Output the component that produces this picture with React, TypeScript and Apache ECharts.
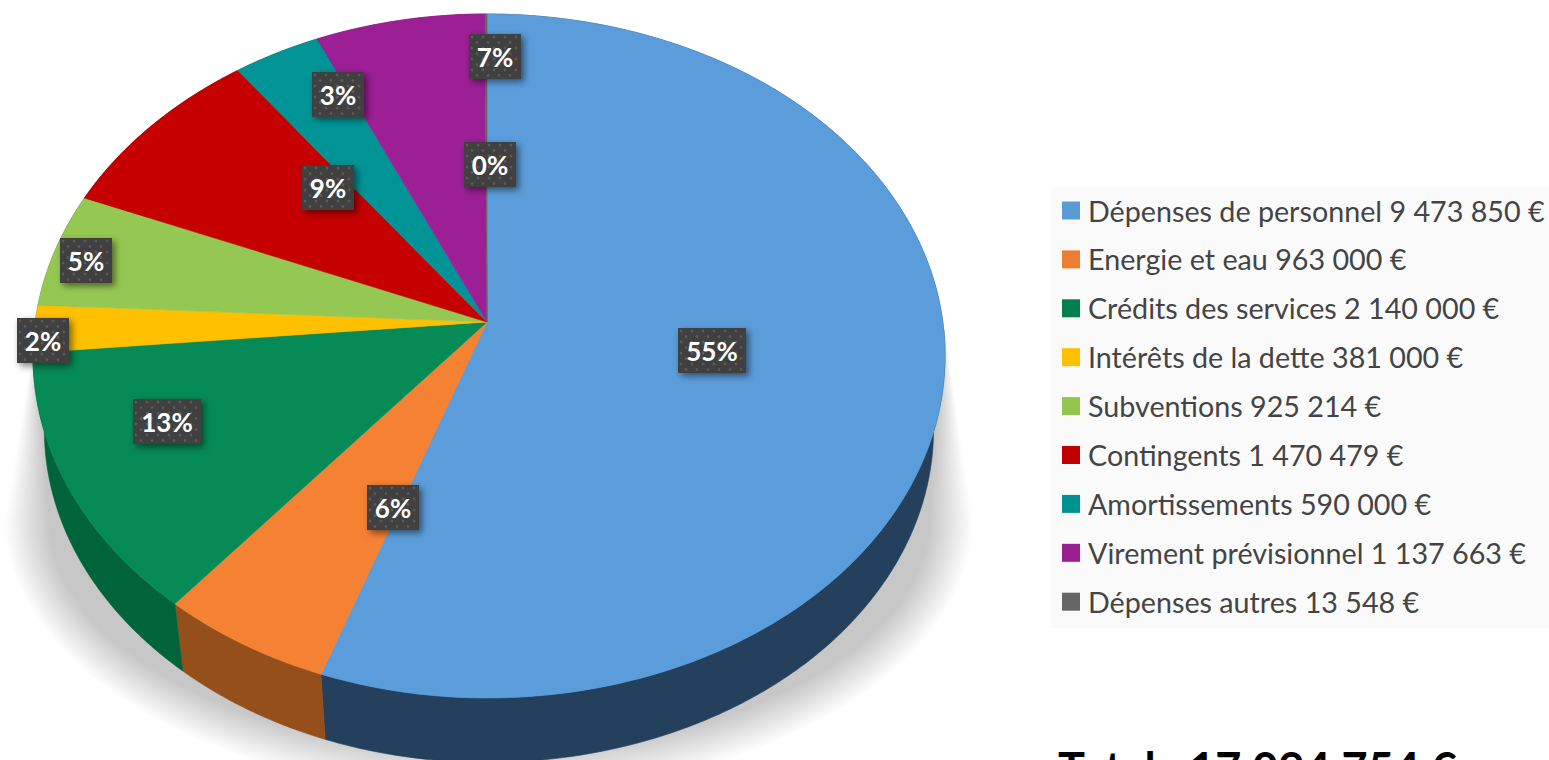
import React, { useEffect, useRef } from "react";
import * as echarts from "echarts";

const categories = [
  "Dépenses de personnel",
  "Energie et eau",
  "Crédits des services",
  "Intérêts de la dette",
  "Subventions",
  "Contingents",
  "Amortissements",
  "Virement prévisionnel",
  "Dépenses autres",
];
const values = [9473850, 963000, 2140000, 381000, 925214, 1470479, 590000, 1137663, 13548];
const topColors = ["#5B9DDB", "#F58233", "#068A56", "#FFC000", "#95C852", "#C60000", "#009496", "#9C1F96", "#666666"];
const legendColors = ["#5B9BD5", "#ED7D31", "#00804E", "#FFC000", "#92C64E", "#C00000", "#009193", "#9A1F90", "#666666"];
const wallColors = ["#24405C", "#944F1B", "#00643A", "#A67D00", "#5F8233", "#7D0000", "#006062", "#651461", "#424242"];
const labelRadius = [0.5, 0.5576, 0.743, 0.9747, 0.918, 0.548, 0.8, 0.849, 0.486];
const labelAngle = [99.8, 200.6, 247.2, 266.7, 281.5, 318.3, 333.9, 1.3, 0.8];
const totalLabel = "Total : 17 094 754 €";

const total = values.reduce((a, b) => a + b, 0);
const fmt = (v: number) => String(v).replace(/\B(?=(\d{3})+(?!\d))/g, " ") + " €";
const legendNames = categories.map((c, i) => `${c} ${fmt(values[i])}`);

// Perspective view of the disc
const CX = 487, CY = 322, A = 453.8, B = 338.2, K = 0.0981;
const rad = (d: number) => (d * Math.PI) / 180;
function project(r: number, deg: number, rim = true): [number, number] {
  const u = r * Math.sin(rad(deg));
  const v = r * Math.cos(rad(deg));
  const w = 1 + K * v;
  const base: [number, number] = [CX + (A * u) / w, CY - (B * v) / w];
  if (!rim) return base;
  const drift = 2 * Math.min(1, Math.abs(u) * 1.5);
  return [base[0] + drift, base[1] + (v < 0 ? -v : 0)];
}
const lower = (p: [number, number]): [number, number] => [CX + (p[0] - CX) * 0.975, 0.972 * p[1] + 84];

const startAngle: number[] = [];
const endAngle: number[] = [];
values.reduce((acc, v, i) => {
  startAngle[i] = (acc / total) * 360;
  endAngle[i] = ((acc + v) / total) * 360;
  return acc + v;
}, 0);

function arc(i: number): [number, number][] {
  const a = startAngle[i], b = endAngle[i];
  const n = Math.max(2, Math.ceil(b - a) * 2);
  const pts: [number, number][] = [];
  for (let j = 0; j <= n; j++) pts.push(project(1, a + ((b - a) * j) / n));
  return pts;
}

function shadowLayer(t: number): [number, number][] {
  const cx = 489, cy = 520, rx = 484 - t, ry = 275 - t;
  const pts: [number, number][] = [[36, 330]];
  const steps = 90;
  for (let j = 0; j <= steps; j++) {
    const a = Math.PI - (Math.PI * j) / steps;
    pts.push([cx + rx * Math.cos(a), cy + ry * Math.sin(a)]);
  }
  pts.push([945, 330]);
  return pts;
}

function labelBox(i: number) {
  const [x, y0] = project(labelRadius[i], labelAngle[i], false);
  const y = y0 - 1;
  const text = `${Math.round((values[i] / total) * 100)}%`;
  const w = text.length > 2 ? 68 : 52;
  const h = 45;
  const left = Math.round(x - w / 2), top = Math.round(y - h / 2);
  const children: any[] = [
    {
      type: "rect",
      shape: { x: left, y: top, width: w, height: h },
      style: { fill: "#404040", shadowBlur: 7, shadowOffsetX: 3, shadowOffsetY: 3, shadowColor: "rgba(0,0,0,0.5)" },
    },
  ];
  for (let r = 0; r * 5.5 + 3 < h; r++) {
    for (let c = r % 2 ? 8 : 3; c < w; c += 11) {
      children.push({ type: "circle", shape: { cx: left + c, cy: top + 3 + r * 5.5, r: 1.4 }, style: { fill: "#5A5A5A" } });
    }
  }
  children.push({
    type: "text",
    style: {
      text,
      x: left + w / 2,
      y: top + h / 2,
      fill: "#FFFFFF",
      font: "bold 26px Lato",
      align: "center",
      verticalAlign: "middle",
    },
  });
  return { type: "group", children };
}

export default function App() {
  const ref = useRef<HTMLDivElement>(null);
  useEffect(() => {
    const chart = echarts.init(ref.current!, null, { renderer: "svg" });
    const slices = categories.map((_, i) => ({
      type: "custom",
      name: legendNames[i],
      coordinateSystem: "none",
      z: 3,
      silent: true,
      itemStyle: { color: legendColors[i] },
      data: [[values[i]]],
      renderItem: () => {
        const pts = arc(i);
        return {
          type: "polygon",
          shape: { points: [[CX, CY], ...pts] },
          style: { fill: topColors[i], stroke: topColors[i], lineWidth: 0.6 },
        };
      },
    }));
    const shadowSteps = Array.from({ length: 28 }, (_, i) => i * 1.6);
    const option: any = {
      animation: false,
      backgroundColor: "#FFFFFF",
      graphic: [
        { type: "rect", z: 0, shape: { x: 1051, y: 187, width: 498, height: 441 }, style: { fill: "#FAFAFA" } },
        {
          type: "text",
          z: 1,
          style: { text: totalLabel, x: 1058, y: 745, fill: "#000000", fontFamily: "Lato", fontWeight: "bold", fontSize: 45, verticalAlign: "top" },
        },
      ],
      legend: {
        orient: "vertical",
        left: 1062,
        top: 196,
        padding: 0,
        selectedMode: false,
        itemWidth: 18,
        itemHeight: 18,
        itemGap: 19.9,
        icon: "rect",
        data: legendNames,
        textStyle: { color: "#444444", fontFamily: "Lato", fontSize: 28.7, lineHeight: 28.8, padding: [0, 0, 0, 3] },
      },
      series: [
        {
          type: "custom",
          name: "ombre",
          coordinateSystem: "none",
          z: 1,
          silent: true,
          data: shadowSteps.map((t) => [t]),
          renderItem: (_: any, api: any) => ({
            type: "polygon",
            shape: { points: shadowLayer(api.value(0)) },
            style: { fill: "rgba(0,0,0,0.0085)" },
          }),
        },
        {
          type: "custom",
          name: "parois",
          coordinateSystem: "none",
          z: 2,
          silent: true,
          data: values.map((v) => [v]),
          renderItem: (p: any) => {
            const i = p.dataIndex;
            const pts = arc(i);
            const bottom = pts.map(lower).reverse();
            return {
              type: "polygon",
              shape: { points: [...pts, ...bottom] },
              style: { fill: wallColors[i], stroke: wallColors[i], lineWidth: 0.6 },
            };
          },
        },
        ...slices,
        {
          type: "custom",
          name: "pourcentages",
          coordinateSystem: "none",
          z: 5,
          silent: true,
          data: values.map((v) => [v]),
          renderItem: (p: any) => labelBox(p.dataIndex),
        },
      ],
    };
    chart.setOption(option);
    return () => chart.dispose();
  }, []);
  return <div ref={ref} style={{ position: "fixed", left: 0, top: 0, width: 1549, height: 760 }} />;
}
